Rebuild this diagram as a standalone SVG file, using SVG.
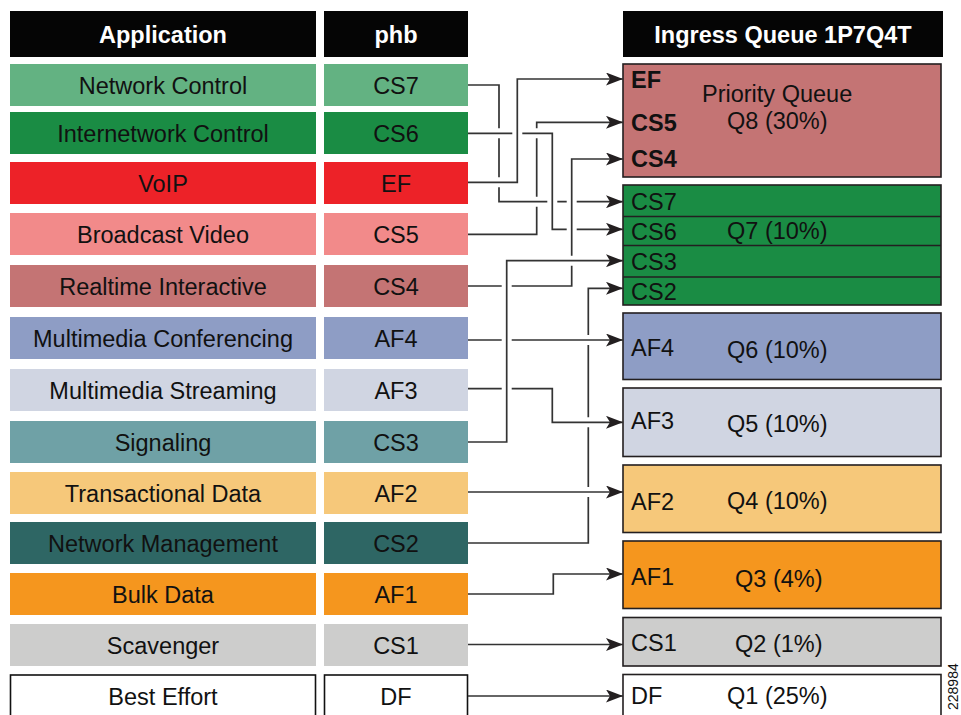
<svg xmlns="http://www.w3.org/2000/svg" width="961" height="715" viewBox="0 0 961 715">
<style>
text{font-family:"Liberation Sans",Arial,Helvetica,sans-serif;font-size:23.5px;fill:#111}
.c{text-anchor:middle}
.h{font-weight:bold;fill:#fff}
.b{font-weight:bold}
.hd{fill:#050505}
.q{stroke:#231f20;stroke-width:1.6}
.ln{fill:none;stroke:#333;stroke-width:1.7;marker-end:url(#ah)}
</style>
<defs>
<marker id="ah" viewBox="0 0 17 13" refX="17" refY="6.5" markerWidth="17" markerHeight="13" markerUnits="userSpaceOnUse" orient="auto">
<path d="M0,0 L17,6.5 L0,13 L4,6.5 z" fill="#231f20"/>
</marker>
</defs>
<rect width="961" height="715" fill="#fff"/>

<g id="headers">
<rect class="hd" x="10" y="11" width="306" height="46"/>
<text class="c h" x="163" y="43">Application</text>
<rect class="hd" x="324" y="11" width="144" height="46"/>
<text class="c h" x="396" y="43">phb</text>
<rect class="hd" x="623" y="11" width="320" height="46"/>
<text class="c h" x="783" y="43">Ingress Queue 1P7Q4T</text>
</g>

<g id="row-network-control"><rect x="10" y="64" width="306" height="42" fill="#63b282"/><text class="c" x="163" y="93.5">Network Control</text><rect x="324" y="64" width="144" height="42" fill="#63b282"/><text class="c" x="396" y="93.5">CS7</text></g>
<g id="row-internetwork-control"><rect x="10" y="112" width="306" height="42" fill="#1a8c44"/><text class="c" x="163" y="141.5">Internetwork Control</text><rect x="324" y="112" width="144" height="42" fill="#1a8c44"/><text class="c" x="396" y="141.5">CS6</text></g>
<g id="row-voip"><rect x="10" y="162" width="306" height="42" fill="#ed2228"/><text class="c" x="163" y="191.5">VoIP</text><rect x="324" y="162" width="144" height="42" fill="#ed2228"/><text class="c" x="396" y="191.5">EF</text></g>
<g id="row-broadcast-video"><rect x="10" y="213" width="306" height="42" fill="#f28a8a"/><text class="c" x="163" y="242.5">Broadcast Video</text><rect x="324" y="213" width="144" height="42" fill="#f28a8a"/><text class="c" x="396" y="242.5">CS5</text></g>
<g id="row-realtime-interactive"><rect x="10" y="265" width="306" height="42" fill="#c47474"/><text class="c" x="163" y="294.5">Realtime Interactive</text><rect x="324" y="265" width="144" height="42" fill="#c47474"/><text class="c" x="396" y="294.5">CS4</text></g>
<g id="row-multimedia-conferencing"><rect x="10" y="317" width="306" height="42" fill="#8e9dc5"/><text class="c" x="163" y="346.5">Multimedia Conferencing</text><rect x="324" y="317" width="144" height="42" fill="#8e9dc5"/><text class="c" x="396" y="346.5">AF4</text></g>
<g id="row-multimedia-streaming"><rect x="10" y="369" width="306" height="42" fill="#d0d5e2"/><text class="c" x="163" y="398.5">Multimedia Streaming</text><rect x="324" y="369" width="144" height="42" fill="#d0d5e2"/><text class="c" x="396" y="398.5">AF3</text></g>
<g id="row-signaling"><rect x="10" y="421" width="306" height="42" fill="#6fa1a6"/><text class="c" x="163" y="450.5">Signaling</text><rect x="324" y="421" width="144" height="42" fill="#6fa1a6"/><text class="c" x="396" y="450.5">CS3</text></g>
<g id="row-transactional-data"><rect x="10" y="472" width="306" height="42" fill="#f6c87a"/><text class="c" x="163" y="501.5">Transactional Data</text><rect x="324" y="472" width="144" height="42" fill="#f6c87a"/><text class="c" x="396" y="501.5">AF2</text></g>
<g id="row-network-management"><rect x="10" y="522" width="306" height="42" fill="#2e6664"/><text class="c" x="163" y="551.5">Network Management</text><rect x="324" y="522" width="144" height="42" fill="#2e6664"/><text class="c" x="396" y="551.5">CS2</text></g>
<g id="row-bulk-data"><rect x="10" y="573" width="306" height="42" fill="#f5961e"/><text class="c" x="163" y="602.5">Bulk Data</text><rect x="324" y="573" width="144" height="42" fill="#f5961e"/><text class="c" x="396" y="602.5">AF1</text></g>
<g id="row-scavenger"><rect x="10" y="624" width="306" height="42" fill="#cdcdcc"/><text class="c" x="163" y="653.5">Scavenger</text><rect x="324" y="624" width="144" height="42" fill="#cdcdcc"/><text class="c" x="396" y="653.5">CS1</text></g>
<g id="row-best-effort"><rect x="10.5" y="675" width="305" height="50" fill="#fff" stroke="#111" stroke-width="1.6"/><text class="c" x="163" y="704.5">Best Effort</text><rect x="324.5" y="675" width="143" height="50" fill="#fff" stroke="#111" stroke-width="1.6"/><text class="c" x="396" y="704.5">DF</text></g>

<g id="q8"><rect class="q" x="623" y="64" width="318" height="113" fill="#c47474"/>
<text class="b" x="631" y="88">EF</text><text class="b" x="631" y="131">CS5</text><text class="b" x="631" y="167">CS4</text>
<text x="702" y="102">Priority Queue</text><text x="727" y="129">Q8 (30%)</text></g>
<g id="q7"><rect class="q" x="623" y="185" width="318" height="120" fill="#1a8c44"/>
<line class="q" x1="623" y1="216.5" x2="941" y2="216.5"/><line class="q" x1="623" y1="245.5" x2="941" y2="245.5"/><line class="q" x1="623" y1="277" x2="941" y2="277"/>
<text x="631" y="210">CS7</text><text x="631" y="240">CS6</text><text x="631" y="270">CS3</text><text x="631" y="300">CS2</text>
<text x="727" y="239">Q7 (10%)</text></g>
<g id="q6"><rect class="q" x="623" y="313" width="318" height="66.5" fill="#8e9dc5"/><text x="631" y="356">AF4</text><text x="727" y="358">Q6 (10%)</text></g>
<g id="q5"><rect class="q" x="623" y="388" width="318" height="68.5" fill="#d0d5e2"/><text x="631" y="429">AF3</text><text x="727" y="432">Q5 (10%)</text></g>
<g id="q4"><rect class="q" x="623" y="465" width="318" height="67.5" fill="#f6c87a"/><text x="631" y="510">AF2</text><text x="727" y="509">Q4 (10%)</text></g>
<g id="q3"><rect class="q" x="623" y="541" width="318" height="67.5" fill="#f5961e"/><text x="631" y="585">AF1</text><text x="735" y="587">Q3 (4%)</text></g>
<g id="q2"><rect class="q" x="623" y="617.5" width="318" height="48.5" fill="#cdcdcc"/><text x="631" y="651">CS1</text><text x="735" y="652">Q2 (1%)</text></g>
<g id="q1"><rect class="q" x="623" y="674.5" width="318" height="50" fill="#fff"/><text x="631" y="704">DF</text><text x="727" y="704">Q1 (25%)</text></g>

<g id="connectors">
<path class="ln" d="M468,85 H499 V128.3 M499,138.3 V177.3 M499,187.3 V201.7 H547.3 M557.3,201.7 H566.7 M576.7,201.7 H623"/>
<path class="ln" d="M468,133.3 H512.3 M522.3,133.3 H552.3 V229.3 H566.7 M576.7,229.3 H623"/>
<path class="ln" d="M468,182.3 H517.3 V79 H623"/>
<path class="ln" d="M468,234.3 H536.7 V206.7 M536.7,196.7 V138.3 M536.7,128.3 V122.3 H623"/>
<path class="ln" d="M468,286 H501.7 M511.7,286 H571.7 V265.7 M571.7,255.7 V159 H623"/>
<path class="ln" d="M468,442 H506.7 V260.7 H623"/>
<path class="ln" d="M468,340 H501.7 M511.7,340 H623"/>
<path class="ln" d="M468,388.7 H501.7 M511.7,388.7 H552.3 V422.3 H623"/>
<path class="ln" d="M468,492 H623"/>
<path class="ln" d="M468,543 H588.3 V497 M588.3,487 V427.3 M588.3,417.3 V345 M588.3,335 V288.3 H623"/>
<path class="ln" d="M468,594 H553.3 V574 H623"/>
<path class="ln" d="M468,644.5 H623"/>
<path class="ln" d="M468,696 H623"/>
</g>

<text x="0" y="0" transform="translate(958,710) rotate(-90)" style="font-size:14px">228984</text>
</svg>
